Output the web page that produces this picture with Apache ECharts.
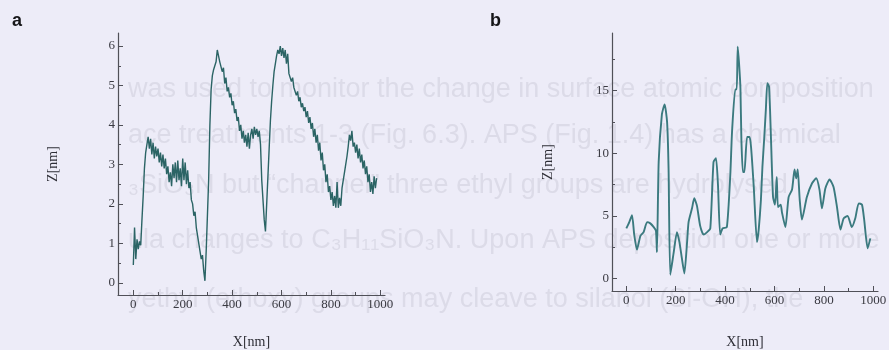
<!DOCTYPE html>
<html>
<head>
<meta charset="utf-8">
<script src="https://cdn.jsdelivr.net/npm/echarts@6/dist/echarts.min.js"></script>
<style>
  html, body { margin: 0; padding: 0; background: #edecf8; }
  #chart { width: 889px; height: 350px; }
</style>
</head>
<body>
<div id="chart"></div>
<script>
// Profile (a): height samples taken every 5 nm along the scan line, starting at 0 nm
const stepA = 5;
const heightA = [
  0.45, 1.40, 0.60, 1.10, 0.85, 1.05, 0.95, 1.60, 2.20, 2.90,
  3.30, 3.50, 3.70, 3.40, 3.65, 3.25, 3.55, 3.15, 3.45, 3.20,
  3.40, 3.05, 3.30, 2.95, 3.25, 2.90, 3.15, 2.75, 2.95, 2.55,
  2.80, 2.45, 3.00, 2.65, 3.05, 2.55, 3.10, 2.60, 2.90, 2.45,
  3.15, 2.60, 3.05, 2.50, 2.85, 2.40, 2.55, 2.10, 2.00, 1.70,
  1.80, 1.40, 1.35, 1.00, 1.05, 0.60, 0.70, 0.30, 0.05, 0.80,
  1.70, 2.60, 4.00, 4.90, 5.25, 5.40, 5.50, 5.60, 5.90, 5.75,
  5.60, 5.65, 5.35, 5.45, 5.05, 5.20, 4.85, 4.95, 4.70, 4.80,
  4.50, 4.60, 4.30, 4.40, 4.10, 4.20, 3.85, 4.00, 3.65, 3.85,
  3.55, 3.75, 3.45, 3.80, 3.40, 3.75, 3.90, 3.65, 3.95, 3.75,
  3.90, 3.70, 3.85, 3.50, 2.60, 2.10, 1.60, 1.30, 2.00, 2.70,
  3.40, 4.10, 4.60, 5.00, 5.35, 5.55, 5.75, 5.90, 5.80, 6.00,
  5.75, 5.95, 5.70, 5.90, 5.55, 5.80, 5.30, 5.35, 5.10, 5.20,
  4.95, 5.00, 4.75, 4.85, 4.60, 4.70, 4.45, 4.55, 4.35, 4.45,
  4.20, 4.35, 4.05, 4.20, 3.90, 4.05, 3.70, 3.90, 3.55, 3.75,
  3.35, 3.55, 3.10, 3.30, 2.85, 3.00, 2.55, 2.75, 2.30, 2.45,
  2.10, 2.30, 1.95, 2.20, 1.90, 2.55, 1.90, 2.15, 1.95, 2.40,
  2.60, 2.80, 3.00, 3.20, 3.45, 3.75, 3.60, 3.85, 3.45, 3.55,
  3.30, 3.50, 3.15, 3.40, 3.05, 3.25, 2.90, 3.10, 2.75, 2.95,
  2.55, 2.75, 2.30, 2.55, 2.25, 2.70, 2.40, 2.65
];

// Profile (b): scan position (nm) and height (nm)
const posB = [
  0, 12, 23, 32, 43, 57, 70, 84, 97, 111, 120, 124, 131, 144, 155, 165, 171, 178,
  192, 205, 215, 225, 235, 246, 252, 266, 275, 286, 299, 313, 327, 340, 353, 363,
  371, 380, 390, 407, 421, 428, 441, 447, 451, 457, 462, 466, 472, 478, 489, 499,
  505, 516, 529, 536, 545, 551, 558, 565, 571, 578, 585, 594, 602, 609, 614, 625,
  630, 644, 657, 671, 681, 688, 694, 702, 711, 731, 752, 769, 782, 792, 806, 823,
  839, 853, 867, 880, 896, 913, 927, 941, 954, 963, 977, 988
];
const heightB = [
  4.0, 4.5, 5.05, 3.5, 2.3, 3.4, 3.7, 4.5, 4.4, 4.1, 3.8, 2.1, 9.3, 13.1, 13.9, 12.5, 8.8, 0.3,
  2.1, 3.7, 2.9, 1.6, 0.4, 2.9, 4.5, 5.6, 6.4, 5.8, 4.2, 3.5, 3.7, 4.0, 9.3, 9.6,
  7.5, 3.5, 4.0, 4.1, 8.3, 11.7, 15.1, 15.1, 18.5, 17.0, 15.2, 11.0, 8.5, 8.5, 11.3, 11.3,
  10.5, 7.3, 2.9, 3.9, 6.3, 8.9, 11.1, 13.5, 15.6, 15.3, 11.6, 6.5, 5.9, 8.1, 5.7, 5.9,
  5.3, 4.1, 6.5, 7.1, 8.7, 8.0, 8.7, 6.3, 4.7, 6.5, 7.6, 8.0, 7.1, 5.6, 7.2, 7.9,
  7.3, 5.7, 3.9, 4.8, 5.0, 4.1, 4.8, 6.0, 5.9, 4.7, 2.4, 3.2
];

// Tick positions
const xMajorTicks = [0, 200, 400, 600, 800, 1000];
const xMinorTicks = [100, 300, 500, 700, 900];
const yMajorTicksA = [0, 1, 2, 3, 4, 5, 6];
const yMinorTicksA = [0.5, 1.5, 2.5, 3.5, 4.5, 5.5];
const yMajorTicksB = [0, 5, 10, 15];
const yMinorTicksB = [2.5, 7.5, 12.5, 17.5];

// Faint lines of page text showing through behind the plots
const pageLines = [
  'was used to monitor the change in surface atomic composition',
  'ace treatments 1-3 (Fig. 6.3). APS (Fig. 1.4) has a chemical',
  '\u2083SiO\u2083N but \u201Cchannel\u201D three ethyl groups are hydrolysed',
  'ula changes to C\u2083H\u2081\u2081SiO\u2083N. Upon APS deposition one or more',
  'yethyl (ethoxy) groups may cleave to silanol (Si-OH), the'
];
const pageLineY = [92, 138, 188, 243, 302];

const dataA = heightA.map((z, i) => [i * stepA, z]);
const dataB = posB.map((x, i) => [x, heightB[i]]);

const axisColor = '#505058';
const labelFont = { fontFamily: '"Liberation Serif", "DejaVu Serif", serif', fontSize: 13, color: '#3a3a42' };
const nameFont = { fontFamily: '"Liberation Serif", "DejaVu Serif", serif', fontSize: 14, color: '#2e2e36' };
const plainNumber = v => String(v);

function xAxes(grid, min, max, gap) {
  return [
    {
      gridIndex: grid, type: 'value', min: min, max: max, position: 'bottom',
      name: 'X[nm]', nameLocation: 'middle', nameGap: gap, nameTextStyle: nameFont,
      axisLine: { show: true, onZero: false, lineStyle: { color: axisColor, width: 1.2 } },
      axisTick: { show: true, inside: true, length: 5, customValues: xMajorTicks, lineStyle: { color: axisColor } },
      axisLabel: Object.assign({ customValues: xMajorTicks, margin: 3, formatter: plainNumber }, labelFont),
      splitLine: { show: false }
    },
    {
      gridIndex: grid, type: 'value', min: min, max: max, position: 'bottom',
      axisLine: { show: false, onZero: false },
      axisTick: { show: true, inside: true, length: 3, customValues: xMinorTicks, lineStyle: { color: axisColor } },
      axisLabel: { show: false },
      splitLine: { show: false }
    }
  ];
}

function yAxes(grid, min, max, major, minor, gap) {
  return [
    {
      gridIndex: grid, type: 'value', min: min, max: max, position: 'left',
      name: 'Z[nm]', nameLocation: 'middle', nameGap: gap, nameRotate: 90, nameTextStyle: nameFont,
      axisLine: { show: true, onZero: false, lineStyle: { color: axisColor, width: 1.2 } },
      axisTick: { show: true, inside: true, length: 5, customValues: major, lineStyle: { color: axisColor } },
      axisLabel: Object.assign({ customValues: major, margin: 3, formatter: plainNumber }, labelFont),
      splitLine: { show: false }
    },
    {
      gridIndex: grid, type: 'value', min: min, max: max, position: 'left',
      axisLine: { show: false, onZero: false },
      axisTick: { show: true, inside: true, length: 3, customValues: minor, lineStyle: { color: axisColor } },
      axisLabel: { show: false },
      splitLine: { show: false }
    }
  ];
}

const chart = echarts.init(document.getElementById('chart'), null, { renderer: 'canvas' });

const graphics = pageLines.map((t, i) => ({
  type: 'text', left: 128, top: pageLineY[i] - 16, z: -10, silent: true,
  style: { text: t, fill: '#dcdbe8', font: '27px "Liberation Sans", Arial, sans-serif' }
}));
graphics.push(
  { type: 'text', left: 12, top: 12, style: { text: 'a', fill: '#151518', font: 'bold 18px "Liberation Sans", Arial, sans-serif' } },
  { type: 'text', left: 490, top: 12, style: { text: 'b', fill: '#151518', font: 'bold 18px "Liberation Sans", Arial, sans-serif' } }
);

chart.setOption({
  backgroundColor: '#edecf8',
  animation: false,
  graphic: graphics,
  grid: [
    { left: 118, top: 33, width: 267, height: 262, containLabel: false, outerBoundsMode: 'none' },
    { left: 612, top: 33, width: 266, height: 258, containLabel: false, outerBoundsMode: 'none' }
  ],
  xAxis: xAxes(0, -62, 1019, 40).concat(xAxes(1, -58, 1019, 44)),
  yAxis: yAxes(0, -0.31, 6.33, yMajorTicksA, yMinorTicksA, 58)
    .concat(yAxes(1, -1.0, 19.6, yMajorTicksB, yMinorTicksB, 57)),
  series: [
    {
      type: 'line', xAxisIndex: 0, yAxisIndex: 0, data: dataA,
      showSymbol: false, lineStyle: { color: '#2b6465', width: 1.4 }
    },
    {
      type: 'line', xAxisIndex: 2, yAxisIndex: 2, data: dataB, smooth: 0.2,
      showSymbol: false, lineStyle: { color: '#3b7a7f', width: 1.9 }
    }
  ]
});
</script>
</body>
</html>
